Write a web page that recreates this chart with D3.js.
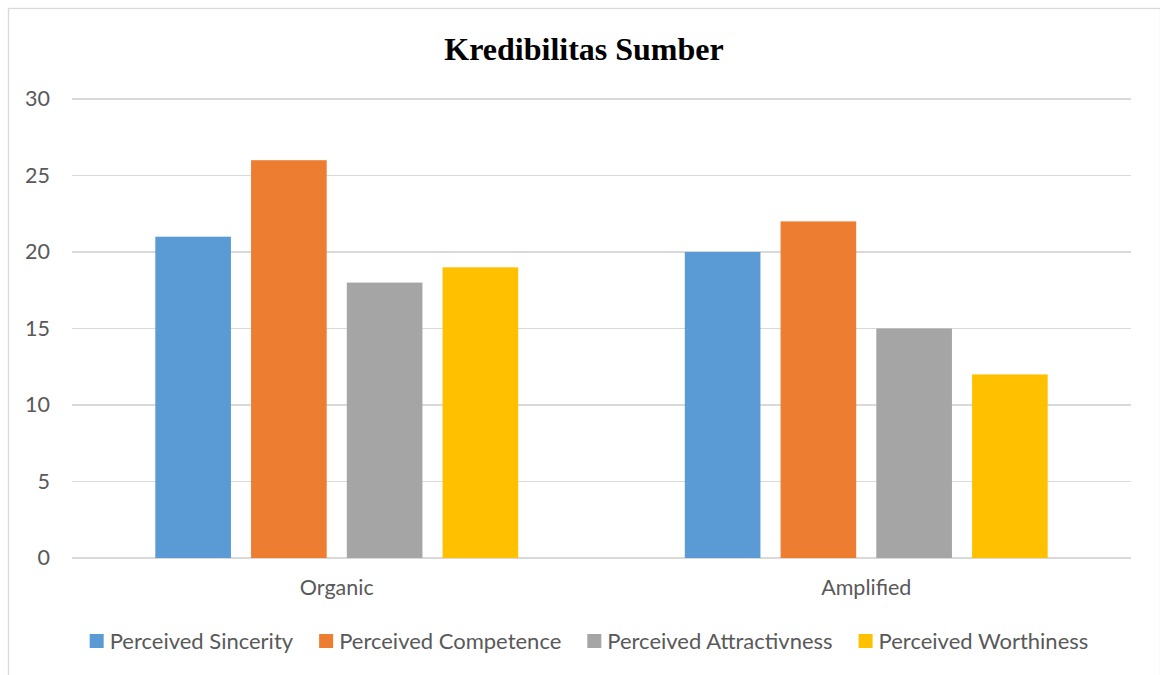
<!DOCTYPE html>
<html>
<meta http-equiv="content-type" content="text/html; charset=utf-8" />
<head>
  <title>Kredibilitas Sumber</title>
</head>
<style>
body { margin: 0; background: #fff; }
.axis text { font: 21.5px Lato, sans-serif; fill: #595959; }
.axis path, .axis line { display: none; }
.grid line { stroke: #d9d9d9; stroke-width: 1.3; shape-rendering: crispEdges; }
.legend text { font: 22px Lato, sans-serif; fill: #595959; }
</style>
<body>
<svg class="chart"></svg>
<script src="https://d3js.org/d3.v7.min.js"></script>
<script>
var categories = ["Organic", "Amplified"];
var seriesNames = ["Perceived Sincerity", "Perceived Competence", "Perceived Attractivness", "Perceived Worthiness"];
var sincerity = [21, 20];
var competence = [26, 22];
var attractivness = [18, 15];
var worthiness = [19, 12];
var colors = ["#5b9bd5", "#ed7d31", "#a5a5a5", "#ffc000"];
var yTicks = [0, 5, 10, 15, 20, 25, 30];

var seriesValues = [sincerity, competence, attractivness, worthiness];

var W = 1160, H = 675;
var margin = {top: 99, left: 72, right: 29, bottom: 117};
var width = W - margin.left - margin.right,
    height = H - margin.top - margin.bottom;

var svg = d3.select(".chart").attr("width", W).attr("height", H);

// outer frame (bottom edge lies beyond the picture)
svg.append("rect")
  .attr("x", 8.5).attr("y", 8.5)
  .attr("width", 1152).attr("height", 700)
  .attr("fill", "none").attr("stroke", "#d9d9d9").attr("stroke-width", 1.3);

svg.append("text")
  .attr("x", 584).attr("y", 60)
  .attr("text-anchor", "middle")
  .style("font", "bold 32px 'Liberation Serif', 'Times New Roman', serif")
  .style("fill", "#000")
  .text("Kredibilitas Sumber");

var chart = svg.append("g")
  .attr("transform", "translate(" + margin.left + "," + margin.top + ")");

var x0 = d3.scaleBand().domain(categories).range([0, width]).padding(0);
var x1 = d3.scaleBand().domain(seriesNames).range([0, x0.bandwidth()])
  .paddingInner(0.21).paddingOuter(0.87);
var y = d3.scaleLinear().domain([0, 30]).range([height, 0]);

chart.append("g")
  .attr("class", "grid")
  .selectAll("line")
  .data(yTicks).enter()
  .append("line")
  .attr("x1", 0).attr("x2", width)
  .attr("y1", function(d) { return y(d); })
  .attr("y2", function(d) { return y(d); });

chart.append("g")
  .attr("class", "y axis")
  .attr("transform", "translate(-22,0)")
  .call(d3.axisLeft(y).tickValues(yTicks).tickSize(0).tickPadding(0));

chart.append("g")
  .attr("class", "x axis")
  .attr("transform", "translate(0," + height + ")")
  .call(d3.axisBottom(x0).tickSize(0).tickPadding(22));

var rows = [];
categories.forEach(function(c, i) {
  seriesNames.forEach(function(s, j) {
    rows.push({cat: c, series: s, value: seriesValues[j][i], color: colors[j]});
  });
});

chart.selectAll(".bar")
  .data(rows).enter()
  .append("rect")
  .attr("class", "bar")
  .attr("x", function(d) { return x0(d.cat) + x1(d.series); })
  .attr("y", function(d) { return y(d.value); })
  .attr("width", x1.bandwidth())
  .attr("height", function(d) { return height - y(d.value); })
  .attr("fill", function(d) { return d.color; });

// legend
var legend = svg.append("g").attr("class", "legend");
var items = legend.selectAll("g")
  .data(seriesNames).enter()
  .append("g");
items.append("rect")
  .attr("width", 14).attr("height", 14)
  .attr("y", -15)
  .attr("fill", function(d, i) { return colors[i]; });
items.append("text")
  .attr("x", 20)
  .attr("y", 0)
  .text(function(d) { return d; });

var xpos = 0;
items.each(function() {
  var g = d3.select(this);
  g.attr("transform", "translate(" + xpos + ",0)");
  xpos += 20 + g.select("text").node().getComputedTextLength() + 26;
});
var total = xpos - 26;
legend.attr("transform", "translate(" + (589 - total / 2) + ",649)");
</script>
</body>
</html>
